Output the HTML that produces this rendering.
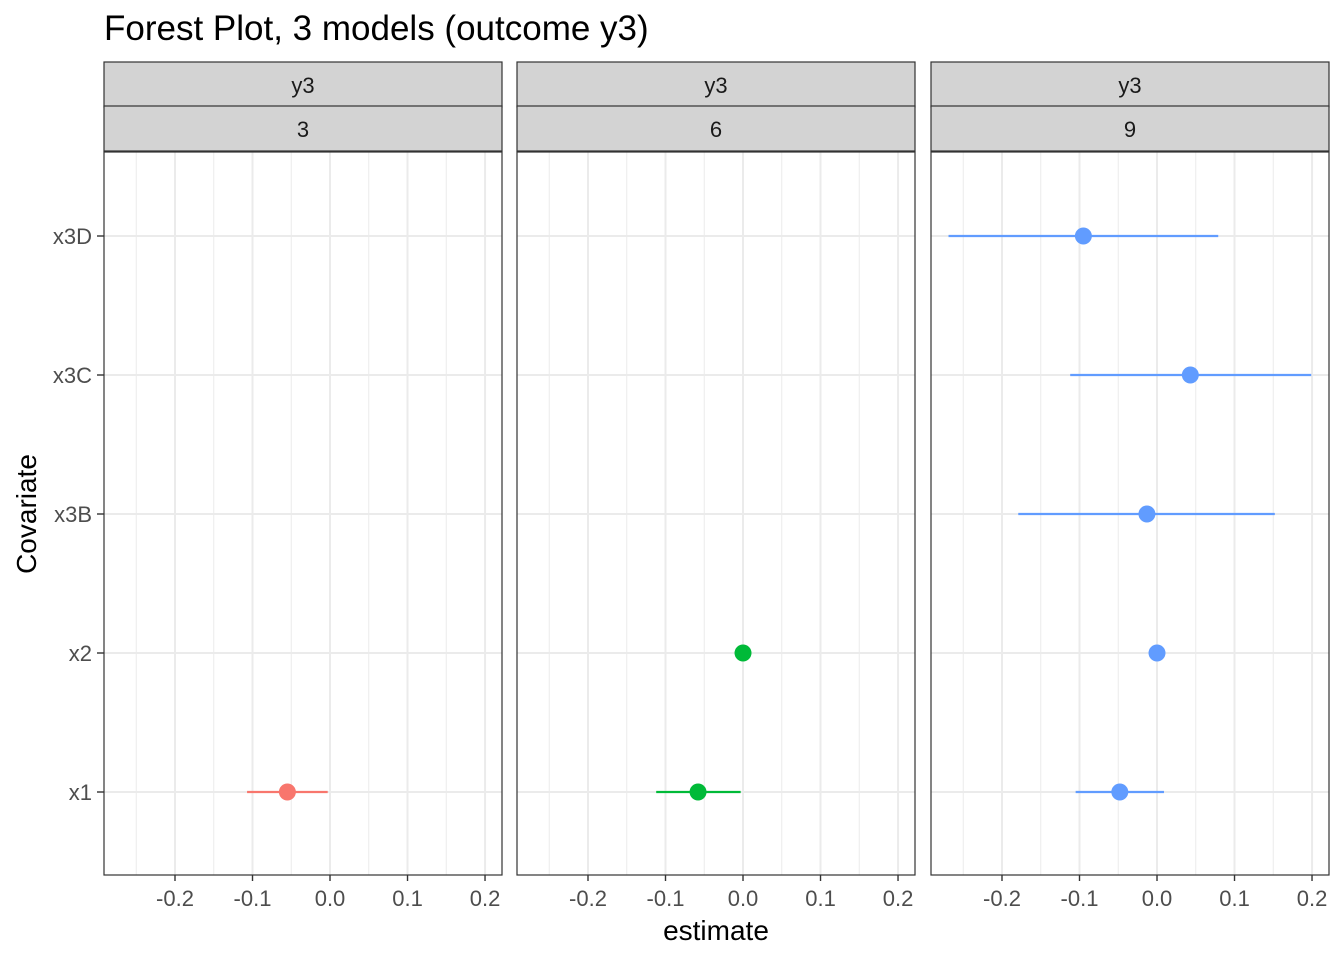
<!DOCTYPE html>
<html><head><meta charset="utf-8"><style>body{margin:0;background:#fff}svg{display:block;font-family:"Liberation Sans",Arial,sans-serif}</style></head>
<body>
<svg id="c" width="1344" height="960"></svg>
<script>
const covariates=["x1","x2","x3B","x3C","x3D"];
const panels=["3","6","9"];
const xTicks=[-0.2,-0.1,0.0,0.1,0.2];
const xTickLabels=["-0.2","-0.1","0.0","0.1","0.2"];
const minorTicks=[-0.25,-0.15,-0.05,0.05,0.15];
const p1Est=[-0.055,null,null,null,null];
const p1Lo=[-0.107,null,null,null,null];
const p1Hi=[-0.003,null,null,null,null];
const p2Est=[-0.058,0.0,null,null,null];
const p2Lo=[-0.112,0.0,null,null,null];
const p2Hi=[-0.003,0.0,null,null,null];
const p3Est=[-0.048,0.0,-0.013,0.043,-0.095];
const p3Lo=[-0.105,0.0,-0.179,-0.112,-0.269];
const p3Hi=[0.009,0.0,0.152,0.199,0.079];
const colors=["#F8766D","#00BA38","#619CFF"];
const ests=[p1Est,p2Est,p3Est],los=[p1Lo,p2Lo,p3Lo],his=[p1Hi,p2Hi,p3Hi];
const svg=document.getElementById('c');const NS="http://www.w3.org/2000/svg";
function mk(t,a,txt){const e=document.createElementNS(NS,t);for(const k in a)e.setAttribute(k,a[k]);if(txt!==undefined)e.textContent=txt;svg.appendChild(e);return e;}
const panelL=[104,517,931],PW=398,plotTop=152,plotBot=875,xmin=-0.2916,xmax=0.2219;
function yPos(i){return 792-i*139;}
let ttl=mk('text',{x:104,y:40,'font-size':35,fill:'#000'},'Forest Plot, 3 models (outcome y3)');


panels.forEach((p,pi)=>{
 const L=panelL[pi];const X=v=>L+(v-xmin)/(xmax-xmin)*PW;
 minorTicks.forEach(v=>{const e=mk('line',{x1:X(v),x2:X(v),y1:plotTop,y2:plotBot,stroke:'#ebebeb','stroke-width':1});
  
  });
 xTicks.forEach(v=>{const e=mk('line',{x1:X(v),x2:X(v),y1:plotTop,y2:plotBot,stroke:'#ebebeb','stroke-width':2});
  
  });
 covariates.forEach((c,i)=>{const e=mk('line',{x1:L,x2:L+PW,y1:yPos(i),y2:yPos(i),stroke:'#ebebeb','stroke-width':2});
  
  });
 covariates.forEach((c,i)=>{const v=ests[pi][i];if(v===null)return;
  const l=mk('line',{x1:X(los[pi][i]),x2:X(his[pi][i]),y1:yPos(i),y2:yPos(i),stroke:colors[pi],'stroke-width':2.2});
  
  
  const d=mk('circle',{cx:X(v),cy:yPos(i),r:8.5,fill:colors[pi]});
  
  });
 const b=mk('rect',{x:L,y:plotTop,width:PW,height:plotBot-plotTop,fill:'none',stroke:'#333','stroke-width':1.2});
 
 
 [[62,'y3'],[106,p]].forEach(([sy,lab])=>{const r=mk('rect',{x:L,y:sy,width:PW,height:45,fill:'#d3d3d3',stroke:'#333','stroke-width':1.2});
  
  
  const tx=mk('text',{x:L+PW/2,y:sy+31,'font-size':22,fill:'#1a1a1a','text-anchor':'middle'},lab);
  
  });
 xTicks.forEach((v,k)=>{const e=mk('line',{x1:X(v),x2:X(v),y1:plotBot,y2:plotBot+6,stroke:'#333','stroke-width':1.4});
  
  
  const tx=mk('text',{x:X(v),y:plotBot+31,'font-size':22,fill:'#4d4d4d','text-anchor':'middle'},xTickLabels[k]);
  
  });
});
covariates.forEach((c,i)=>{const e=mk('line',{x1:97,x2:104,y1:yPos(i),y2:yPos(i),stroke:'#333','stroke-width':1.4});
 
 
 const tx=mk('text',{x:92,y:yPos(i)+8,'font-size':22,fill:'#4d4d4d','text-anchor':'end'},c);
 
 });
let xt=mk('text',{x:716,y:940,'font-size':28,fill:'#000','text-anchor':'middle'},'estimate');


let yt=mk('text',{x:36,y:514,'font-size':28,fill:'#000','text-anchor':'middle',transform:'rotate(-90 36 514)'},'Covariate');


</script>
</body></html>
